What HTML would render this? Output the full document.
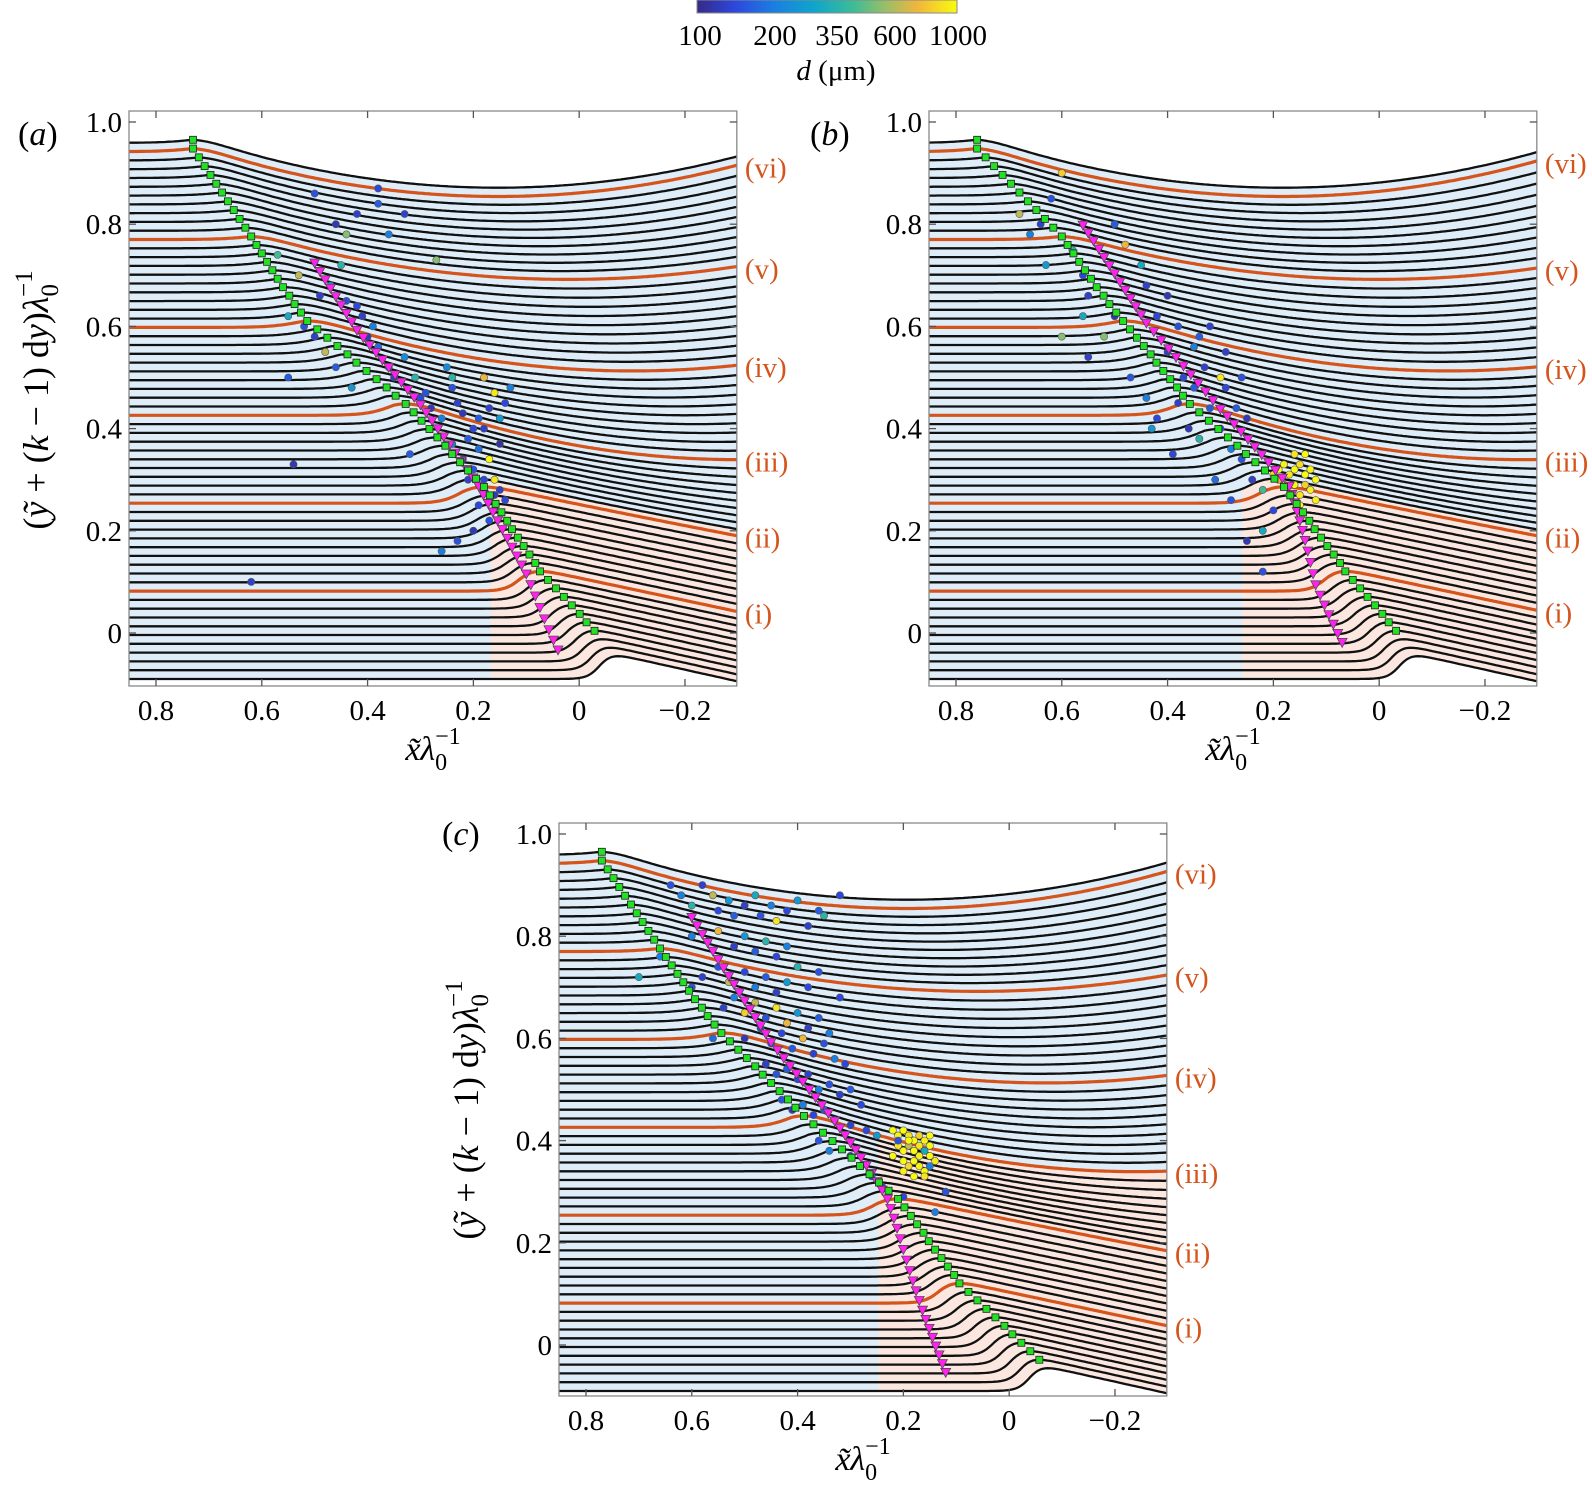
<!DOCTYPE html>
<html><head><meta charset="utf-8">
<style>
html,body{margin:0;padding:0;background:#fff;}
svg{display:block;font-family:"Liberation Serif",serif;}
</style></head>
<body>
<svg id="fig" width="1592" height="1494" viewBox="0 0 1592 1494" xmlns="http://www.w3.org/2000/svg">
<defs>
<linearGradient id="parula" x1="0" x2="1" y1="0" y2="0">
<stop offset="0" stop-color="#352a87"/><stop offset="0.15" stop-color="#2d48e0"/><stop offset="0.3" stop-color="#1a80e0"/>
<stop offset="0.45" stop-color="#0fa5cc"/><stop offset="0.6" stop-color="#3cbc96"/><stop offset="0.72" stop-color="#96be6a"/>
<stop offset="0.85" stop-color="#f2b63c"/><stop offset="1" stop-color="#f9fb0e"/>
</linearGradient>
</defs>
<g id="colorbar">
<rect x="697" y="0" width="260" height="13" fill="url(#parula)" stroke="#888" stroke-width="1"/>
<g font-size="29" text-anchor="middle" fill="#000">
<text x="700" y="45">100</text>
<text x="775" y="45">200</text>
<text x="837" y="45">350</text>
<text x="895" y="45">600</text>
<text x="958" y="45">1000</text>
<text x="836" y="80"><tspan font-style="italic">d</tspan> (μm)</text>
</g>
</g>
<g id="panels"></g>
</svg>
<script>
// ---- shared data ----
const keyK = [0, 10, 20, 30, 40, 50, 60];
const riseKey = [0.055, 0.05, 0.045, 0.04, 0.025, 0.012, 0.012];
const slopeKey = [0.23, 0.22, 0.22, 0.39, 0.355, 0.30, 0.346];
const curveKey = [0, 0, 0.02, 0.30, 0.286, 0.25, 0.30];
const widthKey = [0.012, 0.015, 0.02, 0.025, 0.03, 0.03, 0.03];
const nLines = 62, dyLine = 0.0172, y0Line = -0.09;
const redLines = [10, 20, 30, 40, 50, 60];
const romanLabels = ["(i)", "(ii)", "(iii)", "(iv)", "(v)", "(vi)"];
const yTicks = [0, 0.2, 0.4, 0.6, 0.8, 1.0];
const yTickLabels = ["0", "0.2", "0.4", "0.6", "0.8", "1.0"];
const xTicks = [0.8, 0.6, 0.4, 0.2, 0, -0.2];
const xTickLabels = ["0.8", "0.6", "0.4", "0.2", "0", "\u22120.2"];

// panel crest positions
const crestA = [-0.04, 0.11, 0.22, 0.35, 0.52, 0.62, 0.73];
const crestB = [-0.04, 0.10, 0.22, 0.38, 0.49, 0.60, 0.76];
const crestC = [-0.04, 0.13, 0.25, 0.41, 0.55, 0.66, 0.77];
// magenta breaking-point positions (line index -> x)
const triKA = [3, 10, 20, 30, 40, 48];  const triXA = [0.04, 0.10, 0.19, 0.30, 0.42, 0.50];
const triKB = [4, 10, 20, 30, 40, 52];  const triXB = [0.07, 0.12, 0.17, 0.30, 0.44, 0.56];
const triKC = [2, 10, 20, 30, 40, 55];  const triXC = [0.12, 0.17, 0.23, 0.33, 0.45, 0.60];
// shaded region
const pinkA = {x: 0.17, k: 21}, pinkB = {x: 0.26, k: 21}, pinkC = {x: 0.25, k: 30};

// droplet data
const dotXA = [0.5,0.46,0.44,0.42,0.38,0.38,0.33,0.27,0.36,0.45,0.47,0.44,0.41,0.4,0.38,0.36,0.35,0.33,0.31,0.3,0.28,0.26,0.24,0.23,0.22,0.2,0.21,0.19,0.17,0.16,0.15,0.14,0.25,0.24,0.18,0.16,0.14,0.15,0.13,0.55,0.52,0.5,0.48,0.46,0.43,0.55,0.54,0.62,0.21,0.19,0.17,0.2,0.23,0.26,0.32,0.57,0.53,0.49,0.42,0.39,0.29,0.18,0.15,0.22,0.2,0.18,0.16,0.24,0.19,0.17];
const dotYA = [0.86,0.8,0.78,0.82,0.87,0.84,0.82,0.73,0.78,0.72,0.68,0.65,0.62,0.58,0.56,0.52,0.5,0.54,0.5,0.46,0.44,0.42,0.48,0.45,0.43,0.4,0.38,0.36,0.34,0.3,0.28,0.26,0.52,0.5,0.5,0.47,0.45,0.42,0.48,0.62,0.6,0.58,0.55,0.52,0.48,0.5,0.33,0.1,0.3,0.25,0.22,0.2,0.18,0.16,0.35,0.74,0.7,0.66,0.64,0.6,0.47,0.4,0.37,0.34,0.32,0.3,0.27,0.37,0.42,0.44];
const dotDA = [150,120,500,130,140,160,130,500,200,350,250,150,130,120,180,140,130,220,350,140,120,200,150,130,120,140,160,180,1000,900,130,140,220,350,700,900,140,260,200,300,150,130,600,160,250,160,120,130,130,140,150,120,150,200,160,400,600,130,140,200,150,130,110,130,150,140,120,200,160,130];
const dotXB = [0.68,0.66,0.64,0.62,0.6,0.58,0.56,0.63,0.55,0.5,0.48,0.45,0.44,0.42,0.4,0.38,0.35,0.33,0.3,0.29,0.27,0.5,0.52,0.55,0.47,0.44,0.42,0.38,0.36,0.34,0.32,0.3,0.28,0.26,0.24,0.22,0.2,0.22,0.25,0.28,0.31,0.43,0.39,0.35,0.29,0.25,0.22,0.6,0.56,0.4,0.37,0.34,0.32,0.26,
 0.19,0.18,0.17,0.16,0.15,0.14,0.13,0.18,0.16,0.14,0.17,0.15,0.13,0.12,0.19,0.16,0.14,0.2,0.12,0.15];
const dotYB = [0.82,0.78,0.8,0.85,0.9,0.75,0.7,0.72,0.66,0.8,0.76,0.72,0.68,0.62,0.66,0.6,0.56,0.52,0.5,0.48,0.44,0.62,0.58,0.54,0.5,0.46,0.42,0.45,0.4,0.38,0.44,0.4,0.36,0.34,0.3,0.28,0.24,0.2,0.18,0.26,0.3,0.4,0.35,0.48,0.55,0.42,0.12,0.58,0.62,0.55,0.5,0.58,0.6,0.5,
 0.32,0.33,0.31,0.32,0.33,0.31,0.32,0.29,0.29,0.29,0.27,0.27,0.28,0.3,0.3,0.35,0.35,0.31,0.26,0.25];
const dotDB = [600,200,130,150,800,350,140,250,130,160,700,300,130,140,120,150,200,130,900,140,160,120,500,130,150,200,140,130,120,350,160,140,200,150,130,400,140,300,120,150,180,250,140,160,130,120,150,500,300,130,140,160,130,150,
 1000,950,900,1000,850,1000,950,900,1000,800,1000,900,950,1000,700,900,1000,850,950,1000];
const dotXC = [0.64,0.62,0.6,0.58,0.56,0.55,0.53,0.52,0.5,0.48,0.47,0.45,0.44,0.42,0.4,0.38,0.36,0.35,0.32,0.6,0.57,0.55,0.52,0.5,0.48,0.46,0.44,0.42,0.58,0.55,0.53,0.5,0.48,0.46,0.44,0.42,0.4,0.38,0.36,0.54,0.52,0.5,0.48,0.46,0.44,0.42,0.4,0.38,0.36,0.34,0.32,0.5,0.47,0.45,0.43,0.41,0.39,0.37,0.35,0.33,0.31,0.46,0.44,0.42,0.4,0.38,0.36,0.34,0.32,0.3,0.28,0.43,0.41,0.39,0.37,0.35,0.33,0.3,0.27,0.25,0.36,0.34,0.3,0.28,0.26,0.24,0.2,0.14,0.12,0.7,0.66,0.6,0.56,
 0.22,0.21,0.2,0.19,0.18,0.17,0.16,0.15,0.21,0.2,0.19,0.18,0.17,0.16,0.15,0.14,0.2,0.19,0.18,0.17,0.16,0.15,0.22,0.2,0.18,0.16,0.21,0.19,0.17,0.15];
const dotYC = [0.9,0.88,0.86,0.9,0.88,0.85,0.87,0.84,0.86,0.88,0.84,0.86,0.83,0.85,0.87,0.82,0.85,0.84,0.88,0.8,0.79,0.81,0.78,0.8,0.77,0.79,0.76,0.78,0.72,0.74,0.71,0.73,0.7,0.72,0.69,0.71,0.74,0.7,0.73,0.66,0.68,0.65,0.67,0.64,0.66,0.63,0.65,0.62,0.64,0.61,0.68,0.6,0.62,0.59,0.61,0.58,0.6,0.57,0.59,0.56,0.55,0.55,0.53,0.54,0.52,0.53,0.5,0.51,0.49,0.5,0.47,0.48,0.46,0.47,0.45,0.46,0.44,0.43,0.42,0.41,0.4,0.38,0.37,0.35,0.33,0.31,0.29,0.26,0.3,0.72,0.76,0.7,0.6,
 0.42,0.41,0.42,0.41,0.4,0.41,0.4,0.39,0.39,0.38,0.39,0.38,0.37,0.38,0.37,0.36,0.36,0.35,0.36,0.35,0.34,0.35,0.37,0.34,0.33,0.33,0.4,0.4,0.39,0.41];
const dotDC = [150,200,350,130,600,140,250,160,130,300,150,200,900,140,250,130,160,350,140,200,150,700,130,250,160,350,140,200,130,150,600,140,200,160,130,250,350,140,150,130,200,800,600,150,900,700,250,130,160,200,140,120,130,150,140,160,700,130,150,200,140,130,150,160,140,130,200,150,130,160,140,150,130,200,140,160,150,130,140,250,150,200,130,160,150,130,140,200,150,300,200,150,180,
 1000,950,1000,900,1000,800,950,1000,900,1000,600,1000,950,300,1000,900,1000,850,1000,950,1000,200,1000,950,1000,900,150,1000,900,1000];

const panels = [
  {id:'a', L:129, Y0:633, top:111, bot:686, crest:crestA, triK:triKA, triX:triXA, pink:pinkA, dx:dotXA, dyv:dotYA, dd:dotDA, lab:[18,145], ylab:[48,400], xlab:[433,760], green0:3},
  {id:'b', L:929, Y0:633, top:111, bot:686, crest:crestB, triK:triKB, triX:triXB, pink:pinkB, dx:dotXB, dyv:dotYB, dd:dotDB, lab:[810,145], ylab:null, xlab:[1233,760], green0:3},
  {id:'c', L:559, Y0:1345, top:823, bot:1396, crest:crestC, triK:triKC, triX:triXC, pink:pinkC, dx:dotXC, dyv:dotYC, dd:dotDC, lab:[442,845], ylab:[478,1110], xlab:[863,1470], green0:1}
];
const XL = 0.851, XR = -0.298, SX = 529, SY = 511;
const NS = 'http://www.w3.org/2000/svg';
function mk(tag, attrs, parent) {
  const e = document.createElementNS(NS, tag);
  for (const k in attrs) e.setAttribute(k, attrs[k]);
  parent.appendChild(e); return e;
}
function interpKey(arr, k) {
  const f = Math.min(k, 60) / 10, i = Math.min(Math.floor(f), 5), t = f - i;
  return arr[i] * (1 - t) + arr[i + 1] * t;
}
function interpXY(ks, xs, k) {
  for (let i = 0; i < ks.length - 1; i++) {
    if (k >= ks[i] && k <= ks[i + 1]) { const t = (k - ks[i]) / (ks[i + 1] - ks[i]); return xs[i] * (1 - t) + xs[i + 1] * t; }
  }
  return null;
}
function lineY(P, k, x) {
  const yL = y0Line + dyLine * k;
  const xc = interpKey(P.crest, k), rise = interpKey(riseKey, k), a = interpKey(slopeKey, k), b = interpKey(curveKey, k), w = interpKey(widthKey, k);
  const S = 1 / (1 + Math.exp((x - xc) / w));
  const u = Math.max(0, xc - x);
  return yL + S * (rise - a * u + b * u * u);
}
const cmapStops = [[0,'#352a87'],[0.15,'#2d48e0'],[0.3,'#1a80e0'],[0.45,'#0fa5cc'],[0.6,'#3cbc96'],[0.72,'#96be6a'],[0.85,'#f2b63c'],[1,'#f9fb0e']];
function hex(c){return [parseInt(c.substr(1,2),16),parseInt(c.substr(3,2),16),parseInt(c.substr(5,2),16)];}
function cmap(d) {
  let t = Math.log10(d / 100); t = Math.max(0, Math.min(1, t));
  for (let i = 0; i < cmapStops.length - 1; i++) {
    const [t0, c0] = cmapStops[i], [t1, c1] = cmapStops[i + 1];
    if (t <= t1) { const s = (t - t0) / (t1 - t0), A = hex(c0), B = hex(c1);
      return 'rgb(' + A.map((v, j) => Math.round(v + (B[j] - v) * s)).join(',') + ')'; }
  }
  return '#f9fb0e';
}
const root = document.getElementById('panels');
panels.forEach(P => {
  const px = x => P.L + (XL - x) * SX;
  const py = y => P.Y0 - y * SY;
  const R = px(XR);
  const g = mk('g', {}, root);
  
  
  const xsamp = []; for (let x = XL; x >= XR - 1e-9; x -= 0.004) xsamp.push(x); xsamp.push(XR);
  const pts = k => xsamp.map(x => [px(x), py(lineY(P, k, x))]);
  const toPath = p => 'M' + p.map(q => q[0].toFixed(1) + ',' + q[1].toFixed(1)).join('L');
  const topP = pts(nLines - 1), botP = pts(0);
  const fb = mk('path', {d: toPath(topP) + 'L' + botP.slice().reverse().map(q => q[0].toFixed(1) + ',' + q[1].toFixed(1)).join('L') + 'Z', fill: '#deedf7'}, g);
  
  
  const xsP = xsamp.filter(x => x <= P.pink.x);
  const pt = xsP.map(x => [px(x), py(lineY(P, P.pink.k, x))]);
  const pb = xsP.map(x => [px(x), py(lineY(P, 0, x))]).reverse();
  const fp = mk('path', {d: toPath(pt) + 'L' + pb.map(q => q[0].toFixed(1) + ',' + q[1].toFixed(1)).join('L') + 'Z', fill: '#fbe7df'}, g);
  
  
  for (let k = 0; k < nLines; k++) {
    if (redLines.includes(k)) continue;
    const l = mk('path', {d: toPath(pts(k)), fill: 'none', stroke: '#111', 'stroke-width': 2.3}, g);
    
    
  }
  redLines.forEach((k, i) => {
    const l = mk('path', {d: toPath(pts(k)), fill: 'none', stroke: '#d4541c', 'stroke-width': 3.2}, g);
    
    
  });
  for (let i = 0; i < P.dx.length; i++) {
    const c = mk('circle', {cx: px(P.dx[i]), cy: py(P.dyv[i]), r: 3.6, fill: cmap(P.dd[i]), stroke: '#555', 'stroke-width': 0.6}, g);
    
    
  }
  for (let k = P.triK[0]; k <= P.triK[P.triK.length - 1]; k++) {
    const x = interpXY(P.triK, P.triX, k); if (x === null) continue;
    const X = px(x), Y = py(lineY(P, k, x)) - 1;
    const t = mk('path', {d: `M${X-5},${Y-4}L${X+5},${Y-4}L${X},${Y+5}Z`, fill: '#ff22ee', stroke: '#444', 'stroke-width': 0.7}, g);
    
    
  }
  for (let k = P.green0; k < nLines; k++) {
    const xc = interpKey(P.crest, k);
    let bx = xc, by = -9;
    for (let x = xc + 0.05; x >= xc - 0.12; x -= 0.002) { const y = lineY(P, k, x); if (y > by) { by = y; bx = x; } }
    const s = mk('rect', {x: px(bx) - 3.5, y: py(by) - 3.5, width: 7, height: 7, fill: '#22e022', stroke: '#222', 'stroke-width': 0.8}, g);
    
    
  }
  const fr = mk('rect', {x: P.L, y: P.top, width: R - P.L, height: P.bot - P.top, fill: 'none', stroke: '#888', 'stroke-width': 1.3}, g);
  
  
  yTicks.forEach((v, i) => {
    const Y = py(v);
    mk('line', {x1: P.L, x2: P.L + 7, y1: Y, y2: Y, stroke: '#555', 'stroke-width': 1.3}, g);
    mk('line', {x1: R, x2: R - 7, y1: Y, y2: Y, stroke: '#555', 'stroke-width': 1.3}, g);
    const t = mk('text', {x: P.L - 7, y: Y + 10, 'font-size': 29, 'text-anchor': 'end'}, g);
    t.textContent = yTickLabels[i];
    
    
  });
  xTicks.forEach((v, i) => {
    const X = px(v);
    mk('line', {x1: X, x2: X, y1: P.bot, y2: P.bot - 7, stroke: '#555', 'stroke-width': 1.3}, g);
    mk('line', {x1: X, x2: X, y1: P.top, y2: P.top + 7, stroke: '#555', 'stroke-width': 1.3}, g);
    const t = mk('text', {x: X, y: P.bot + 34, 'font-size': 29, 'text-anchor': 'middle'}, g);
    t.textContent = xTickLabels[i];
    
    
  });
  redLines.forEach((k, i) => {
    const Y = py(lineY(P, k, XR));
    const t = mk('text', {x: R + 8, y: Y + 12, 'font-size': 29, fill: '#d4541c'}, g);
    t.textContent = romanLabels[i];
    
    
  });
  const pl = mk('text', {x: P.lab[0], y: P.lab[1], 'font-size': 34}, g);
  pl.innerHTML = '(<tspan font-style="italic">' + P.id + '</tspan>)';
  
  
  const xl = mk('text', {x: P.xlab[0], y: P.xlab[1], 'font-size': 34, 'text-anchor': 'middle'}, g);
  xl.innerHTML = '<tspan font-style="italic">x̃λ</tspan><tspan font-size="24" dy="10">0</tspan><tspan font-size="24" dy="-26" dx="-12">−1</tspan>';
  
  
  if (P.ylab) {
    const yl = mk('text', {x: 0, y: 0, 'font-size': 36, 'text-anchor': 'middle', transform: `translate(${P.ylab[0]},${P.ylab[1]}) rotate(-90)`}, g);
    yl.innerHTML = '(<tspan font-style="italic">ỹ</tspan> + (<tspan font-style="italic">k</tspan> − 1) d<tspan font-style="italic">y</tspan>)<tspan font-style="italic">λ</tspan><tspan font-size="25" dy="10">0</tspan><tspan font-size="25" dy="-26" dx="-13">−1</tspan>';
    
    
  }
});
</script>
</body></html>
